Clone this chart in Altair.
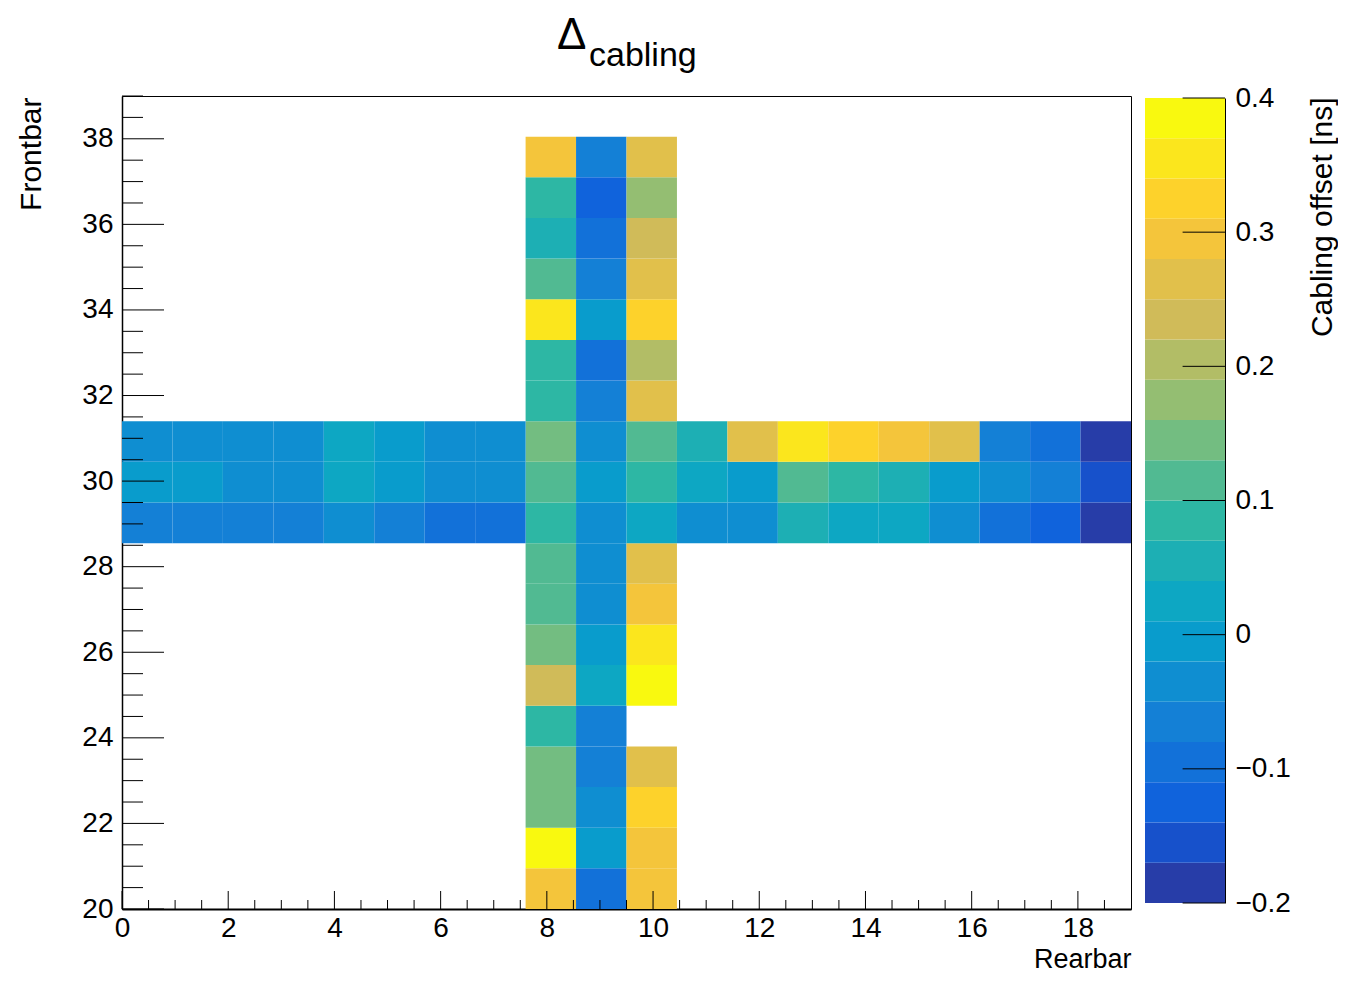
import altair as alt
import numpy as np
import pandas as pd

# ---------------- histogram binning (Rearbar on x, Frontbar on y) ----------------
x_min, x_max, n_x = 0.0, 19.0, 20
y_min, y_max, n_y = 20.0, 39.0, 20

# ---------------- cell values, Cabling offset [ns] ----------------
# vertical strips (x bins 8, 9, 10), y bins 0..18 from bottom to top
col_8 = [0.295, 0.385, 0.145, 0.145, 0.085, 0.235, 0.145, 0.115, 0.115, 0.085,
         0.115, 0.145, 0.085, 0.085, 0.355, 0.115, 0.055, 0.085, 0.295]
col_9 = [-0.095, -0.005, -0.035, -0.065, -0.065, 0.025, -0.005, -0.035, -0.035, -0.035,
         -0.005, -0.035, -0.065, -0.095, -0.005, -0.065, -0.095, -0.125, -0.065]
col_10 = [0.295, 0.295, 0.325, 0.265, None, 0.385, 0.355, 0.295, 0.265, 0.025,
          0.085, 0.115, 0.265, 0.205, 0.325, 0.265, 0.235, 0.175, 0.265]
# horizontal strips (y bins 9, 10, 11), x bins 0..19 from left to right
row_9 = [-0.065, -0.065, -0.065, -0.065, -0.035, -0.065, -0.095, -0.095, 0.085, -0.035,
         0.025, -0.035, -0.035, 0.055, 0.025, 0.025, -0.035, -0.095, -0.125, -0.185]
row_10 = [-0.005, -0.005, -0.035, -0.035, 0.025, -0.005, -0.035, -0.035, 0.115, -0.005,
          0.085, 0.025, -0.005, 0.115, 0.085, 0.055, -0.005, -0.035, -0.065, -0.155]
row_11 = [-0.035, -0.035, -0.035, -0.035, 0.025, -0.005, -0.035, -0.035, 0.145, -0.035,
          0.115, 0.055, 0.265, 0.355, 0.325, 0.295, 0.265, -0.065, -0.095, -0.185]

# ---------------- axis ticks / labels ----------------
x_label_values = [0, 2, 4, 6, 8, 10, 12, 14, 16, 18]
y_label_values = [20, 22, 24, 26, 28, 30, 32, 34, 36, 38]
x_minor_ticks = [t / 2 for t in range(0, 38) if t % 4 != 0]
y_minor_ticks = [20 + t / 2 for t in range(0, 39) if t % 4 != 0]
z_min, z_max, n_contours = -0.2, 0.4, 20
z_label_values = [-0.2, -0.1, 0, 0.1, 0.2, 0.3, 0.4]

# ---------------- ROOT kBird palette, 20 contour levels ----------------
stops = [0.0, 0.125, 0.25, 0.375, 0.5, 0.625, 0.75, 0.875, 1.0]
red = [0.2082, 0.0592, 0.0780, 0.0232, 0.1802, 0.5301, 0.8186, 0.9956, 0.9764]
green = [0.1664, 0.3599, 0.5041, 0.6419, 0.7178, 0.7492, 0.7328, 0.7862, 0.9832]
blue = [0.5293, 0.8684, 0.8385, 0.7914, 0.6425, 0.4662, 0.3499, 0.1968, 0.0539]
colors = []
for k in range(n_contours):
    idx = int((k + 0.99) * 255 / n_contours)
    p = idx / 255.0
    r, g, b = (float(np.interp(p, stops, c)) for c in (red, green, blue))
    colors.append('#%02x%02x%02x' % (round(r * 255), round(g * 255), round(b * 255)))

# ---------------- build the cell table ----------------
bw_x = (x_max - x_min) / n_x
bw_y = (y_max - y_min) / n_y
cells = {}
for i, col in ((8, col_8), (9, col_9), (10, col_10)):
    for j, v in enumerate(col):
        if v is not None:
            cells[(i, j)] = v
for j, row in ((9, row_9), (10, row_10), (11, row_11)):
    for i, v in enumerate(row):
        if v is not None:
            cells[(i, j)] = v
cell_df = pd.DataFrame([
    {"x0": x_min + i * bw_x, "x1": x_min + (i + 1) * bw_x,
     "y0": y_min + j * bw_y, "y1": y_min + (j + 1) * bw_y, "v": v}
    for (i, j), v in cells.items()
])

dz = (z_max - z_min) / n_contours
band_df = pd.DataFrame({
    "lo": [z_min + k * dz for k in range(n_contours)],
    "hi": [z_min + (k + 1) * dz for k in range(n_contours)],
    "mid": [z_min + (k + 0.5) * dz for k in range(n_contours)],
    "a": [0.0] * n_contours,
    "b": [1.0] * n_contours,
})
z_tick_df = pd.DataFrame({"lo": z_label_values, "a": [0.47] * len(z_label_values),
                          "b": [1.0] * len(z_label_values)})

# ---------------- chart ----------------
W, H = 1009, 813
FONT = "Liberation Sans"
xs = alt.Scale(domain=[x_min, x_max], nice=False, zero=False)
ys = alt.Scale(domain=[y_min, y_max], nice=False, zero=False)
cs = alt.Scale(type="quantize", domain=[z_min, z_max], range=colors)

x_axis = alt.Axis(title="Rearbar", values=x_label_values, format="d", ticks=False, tickSize=0,
                  grid=False, labelFontSize=28, labelPadding=27, labelBaseline="alphabetic",
                  labelFlush=False, labelOverlap=False, labelColor="black", labelFont=FONT,
                  domainColor="black", domainWidth=2,
                  titleFontSize=27, titleFontWeight="normal", titleColor="black", titleFont=FONT,
                  titleAlign="right", titleBaseline="alphabetic", titleX=W, titleY=58)
y_axis = alt.Axis(title="Frontbar", values=y_label_values, format="d", ticks=False, tickSize=0,
                  grid=False, labelFontSize=28, labelPadding=9, labelBaseline="middle",
                  labelFlush=False, labelOverlap=False, labelColor="black", labelFont=FONT,
                  domainColor="black", domainWidth=1.5,
                  titleFontSize=30, titleFontWeight="normal", titleColor="black", titleFont=FONT,
                  titleAngle=270, titleAlign="right", titleBaseline="alphabetic",
                  titleX=-82, titleY=1)

heat = alt.Chart(cell_df).mark_rect(strokeWidth=0).encode(
    x=alt.X("x0:Q", scale=xs, axis=x_axis),
    x2="x1:Q",
    y=alt.Y("y0:Q", scale=ys, axis=y_axis),
    y2="y1:Q",
    color=alt.Color("v:Q", scale=cs, legend=None),
)

x_major = alt.Chart(pd.DataFrame({"x0": x_label_values})).mark_rule(color="black", strokeWidth=1).encode(
    x=alt.X("x0:Q", scale=xs, axis=x_axis), y=alt.value(H), y2=alt.value(H - 18))
x_minor = alt.Chart(pd.DataFrame({"x0": x_minor_ticks})).mark_rule(color="black", strokeWidth=1).encode(
    x=alt.X("x0:Q", scale=xs, axis=x_axis), y=alt.value(H), y2=alt.value(H - 9))
y_major = alt.Chart(pd.DataFrame({"y0": y_label_values})).mark_rule(color="black", strokeWidth=1).encode(
    y=alt.Y("y0:Q", scale=ys, axis=y_axis), x=alt.value(0), x2=alt.value(42))
y_minor = alt.Chart(pd.DataFrame({"y0": y_minor_ticks})).mark_rule(color="black", strokeWidth=1).encode(
    y=alt.Y("y0:Q", scale=ys, axis=y_axis), x=alt.value(0), x2=alt.value(21))

delta = alt.Chart(pd.DataFrame({"t": ["Δ"]})).mark_text(
    font=FONT, fontSize=44, align="left", baseline="alphabetic", color="black").encode(
    x=alt.value(435), y=alt.value(-47), text="t:N")
sub = alt.Chart(pd.DataFrame({"t": ["cabling"]})).mark_text(
    font=FONT, fontSize=34, align="left", baseline="alphabetic", color="black").encode(
    x=alt.value(467), y=alt.value(-30), text="t:N")

main = alt.layer(heat, x_major, x_minor, y_major, y_minor, delta, sub)

cb_x = alt.Scale(domain=[0, 1], range=[1023, 1103], nice=False, zero=False)
cb_y = alt.Scale(domain=[z_min, z_max], range=[807, 2], nice=False, zero=False)
z_axis = alt.Axis(orient="right", offset=94, title="Cabling offset [ns]", values=z_label_values,
                  format="~g", ticks=False, tickSize=0, grid=False,
                  labelFontSize=28, labelPadding=10, labelBaseline="middle",
                  labelFlush=False, labelOverlap=False, labelColor="black", labelFont=FONT,
                  domainColor="black", domainWidth=1,
                  titleFontSize=30, titleFontWeight="normal", titleColor="black", titleFont=FONT,
                  titleAngle=270, titleAlign="right", titleBaseline="alphabetic",
                  titleX=106, titleY=1)
cb_rect = alt.Chart(band_df).mark_rect(strokeWidth=0).encode(
    x=alt.X("a:Q", scale=cb_x, axis=None),
    x2="b:Q",
    y=alt.Y("lo:Q", scale=cb_y, axis=z_axis),
    y2="hi:Q",
    color=alt.Color("mid:Q", scale=cs, legend=None),
)
cb_ticks = alt.Chart(z_tick_df).mark_rule(color="black", strokeWidth=1).encode(
    x=alt.X("a:Q", scale=cb_x, axis=None),
    x2="b:Q",
    y=alt.Y("lo:Q", scale=cb_y, axis=z_axis),
)
cbar = alt.layer(cb_rect, cb_ticks)

chart = alt.layer(main, cbar).resolve_scale(
    x="independent", y="independent"
).properties(
    width=W, height=H,
    padding={"left": 114, "top": 88, "right": 207, "bottom": 64},
    autosize=alt.AutoSizeParams(type="none"),
    background="white",
).configure(
    font=FONT
).configure_view(
    stroke="black", strokeWidth=1
)

chart.save("out.html", embed_options={"renderer": "svg", "actions": False})
